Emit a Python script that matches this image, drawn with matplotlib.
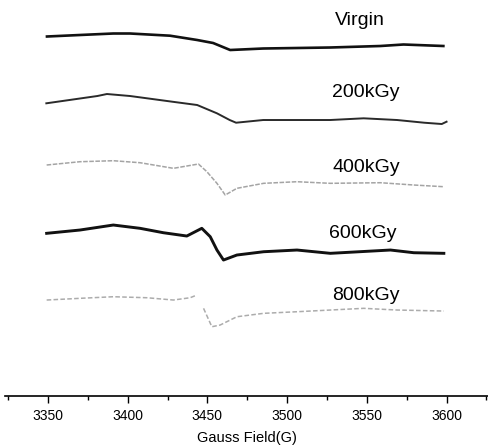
import numpy as np
import matplotlib as mpl
import matplotlib.pyplot as plt

mpl.use('Agg')
plt.rcParams['font.family'] = ['Liberation Sans', 'DejaVu Sans']

# spectra (field in G, intensity in arbitrary units)
labels = ['Virgin', '200kGy', '400kGy', '600kGy', '800kGy']

field_virgin = [3349.4, 3370, 3391, 3401.5, 3426.6, 3443.6, 3453.6, 3464.3, 3485, 3527, 3558.5, 3573, 3598]
int_virgin = [3.5, 5, 6.5, 6.5, 4.3, 0, -3, -10, -8.5, -7.5, -6, -4.5, -6]

field_200 = [3349, 3381, 3387, 3401.5, 3428, 3443.6, 3456, 3464, 3468, 3485, 3527, 3548, 3569, 3586, 3597, 3600]
int_200 = [6.7, 14, 16, 14, 8.3, 5, -3.3, -10, -12.7, -10, -10, -8.3, -10, -12.7, -14, -11.7]

field_400 = [3349.2, 3370.1, 3391, 3407.8, 3428.7, 3437.1, 3444.4, 3449.7, 3456, 3461.2, 3468.5,
             3485.3, 3506.2, 3527.1, 3558.5, 3579.5, 3598.3]
int_400 = [10, 13.3, 14.3, 12.3, 6.7, 9, 11, 3.3, -8.3, -20, -13.3, -8.3, -6.7, -8.3, -7.7, -10, -11.7]

field_600 = [3349.2, 3370.1, 3391, 3407.8, 3422.4, 3437.1, 3446.5, 3451.8, 3456, 3460.1, 3468.5,
             3485.3, 3506.2, 3527.1, 3564.8, 3579.5, 3598.3]
int_600 = [9.7, 13, 18, 14.7, 10.3, 7, 14.7, 6.3, -7, -17, -12, -8.7, -7, -10.3, -7, -9.7, -10.3]

field_800 = [3349.2, 3370.1, 3391, 3412, 3428.7, 3439.2, 3443.4, 3445.5, 3447.6, 3452.8, 3458,
             3468.5, 3485.3, 3506.2, 3527.1, 3548, 3569, 3598.3]
int_800 = [5, 6.7, 8.3, 7.3, 5, 7.3, 10, np.nan, -3.3, -21.7, -20, -11.7, -8.3, -6.7, -5, -3.3, -5, -6]

fields = [field_virgin, field_200, field_400, field_600, field_800]
intens = [int_virgin, int_200, int_400, int_600, int_800]
offsets = [356, 286, 221, 153, 91]
colors = ['#111111', '#2a2a2a', '#a4a4a4', '#111111', '#acacac']
widths = [1.9, 1.4, 1.1, 2.1, 1.1]
styles = ['-', '-', (0, (3, 1)), '-', (0, (3, 1.5))]
label_pos = [(3545.4, 371), (3549.1, 299.3), (3549.7, 224.3), (3547.2, 158), (3549.7, 96)]

fig = plt.figure(figsize=(4.88, 4.47), dpi=100)
ax = fig.add_axes([0.01, 0.114, 0.99, 0.886])

for f, v, off, c, w, ls in zip(fields, intens, offsets, colors, widths, styles):
    ax.plot(f, np.array(v) + off, color=c, lw=w, ls=ls)

for lab, (lx, ly) in zip(labels, label_pos):
    ax.text(lx, ly, lab, ha='center', va='baseline', fontsize=14)

ax.set_xlim(3323, 3626)
ax.set_ylim(0, 396)
ax.set_xticks(np.arange(3350, 3601, 50))
ax.set_xticks(np.arange(3325, 3626, 25), minor=True)
ax.tick_params(axis='x', which='major', length=5, width=1, labelsize=10, pad=4)
ax.tick_params(axis='x', which='minor', length=3, width=1)
ax.set_yticks([])
for s in ['top', 'left', 'right']:
    ax.spines[s].set_visible(False)
ax.spines['bottom'].set_linewidth(1.2)
ax.set_xlabel('Gauss Field(G)', fontsize=10.5, labelpad=6)

fig.savefig('out.png', dpi=100)
